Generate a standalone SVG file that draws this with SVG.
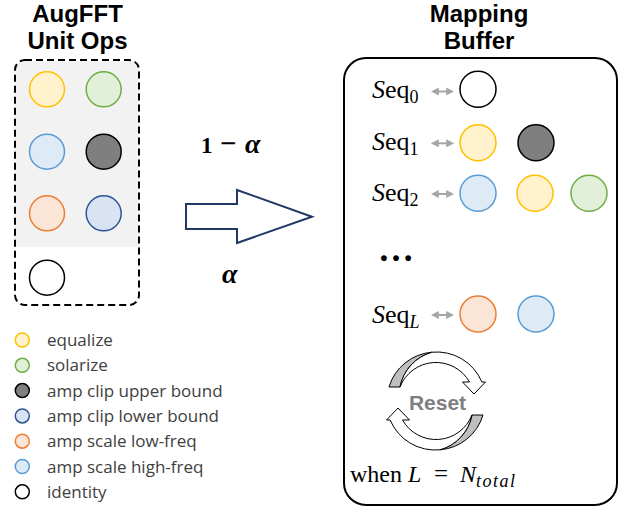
<svg xmlns="http://www.w3.org/2000/svg" width="621" height="507" viewBox="0 0 621 507">
<defs>
<style>
.title{font-family:"Liberation Sans",Arial,sans-serif;font-weight:bold;font-size:24px;fill:#000;text-anchor:middle}
.leg{font-family:"Open Sans","Liberation Sans",sans-serif;font-size:17px;fill:#404040}
.math{font-family:"Liberation Serif","Times New Roman",serif;fill:#000}
.c{stroke-width:1.5}
.yel{fill:#FFF2CC;stroke:#FFC000}
.grn{fill:#E2F0D9;stroke:#70AD47}
.lbl{fill:#DEEBF7;stroke:#5B9BD5}
.dgr{fill:#7F7F7F;stroke:#000}
.org{fill:#FBE5D6;stroke:#ED7D31}
.dbl{fill:#DAE3F3;stroke:#2F5597}
.wht{fill:#FFF;stroke:#000}
.link{stroke:#A6A6A6;stroke-width:2;fill:none;marker-start:url(#ah);marker-end:url(#ah)}
.ra-gray{fill:#BFBFBF;stroke:#000;stroke-width:1}
.ra-white{fill:#FFF;stroke:#000;stroke-width:1}
</style>
<marker id="ah" viewBox="0 0 10 10" refX="6" refY="5" markerWidth="4" markerHeight="4" orient="auto-start-reverse">
<path d="M0,0 L10,5 L0,10 Z" fill="#A6A6A6"/>
</marker>
<g id="resetArrow">
<path class="ra-gray" d="M389,387 A49,49 0 0 1 432,352.2 A45,45 0 0 0 400,387 Z"/>
<path class="ra-white" d="M400,387 A45,45 0 0 1 432,352.2 A49,49 0 0 1 481.9,382 L485.5,382 L474,394 L462.5,382 L469.5,382 A38.6,38.6 0 0 0 400,387 Z"/>
</g>
</defs>

<g id="augfft-title">
<text class="title" x="77.5" y="22">AugFFT</text>
<text class="title" x="77.5" y="49">Unit Ops</text>
</g>

<g id="unit-ops-box">
<path d="M15,245 L15,70 Q15,61 24,61 L130,61 Q139,61 139,70 L139,247 L15,247 Z" fill="#F2F2F2"/>
<rect x="15" y="60" width="124" height="245" rx="10" fill="none" stroke="#000" stroke-width="2" stroke-dasharray="7,4"/>
</g>

<g id="op-equalize"><circle class="c yel" cx="47" cy="89.3" r="17.5"/></g>
<g id="op-solarize"><circle class="c grn" cx="103.7" cy="89.3" r="17.5"/></g>
<g id="op-amp-scale-high"><circle class="c lbl" cx="47" cy="151.7" r="17.5"/></g>
<g id="op-amp-clip-upper"><circle class="c dgr" cx="103.7" cy="151.7" r="17.5"/></g>
<g id="op-amp-scale-low"><circle class="c org" cx="47" cy="213.3" r="17.5"/></g>
<g id="op-amp-clip-lower"><circle class="c dbl" cx="103.7" cy="213.3" r="17.5"/></g>
<g id="op-identity"><circle class="c wht" cx="47" cy="277.7" r="17.5"/></g>

<g id="legend">
<circle class="c yel" cx="22.3" cy="340" r="7"/><text class="leg" x="47" y="346">equalize</text>
<circle class="c grn" cx="22.3" cy="365.3" r="7"/><text class="leg" x="47" y="371.3">solarize</text>
<circle class="c dgr" cx="22.3" cy="390.6" r="7"/><text class="leg" x="47" y="396.6">amp clip upper bound</text>
<circle class="c dbl" cx="22.3" cy="415.9" r="7"/><text class="leg" x="47" y="421.9">amp clip lower bound</text>
<circle class="c org" cx="22.3" cy="441.2" r="7"/><text class="leg" x="47" y="447.2">amp scale low-freq</text>
<circle class="c lbl" cx="22.3" cy="466.5" r="7"/><text class="leg" x="47" y="472.5">amp scale high-freq</text>
<circle class="c wht" cx="22.3" cy="491.8" r="7"/><text class="leg" x="47" y="497.8">identity</text>
</g>

<g id="mapping-title">
<text class="title" x="479" y="22">Mapping</text>
<text class="title" x="479" y="49">Buffer</text>
</g>

<g id="mapping-buffer">
<rect x="344" y="58" width="273" height="447" rx="22" fill="#FFF" stroke="#000" stroke-width="2"/>
</g>

<g id="connectors">
<polygon points="186,204 237,204 237,190 312,216.7 237,243 237,229 186,229" fill="#FFF" stroke="#203864" stroke-width="2" stroke-linejoin="miter"/>
<text class="math" font-weight="bold" y="153"><tspan x="201" font-size="23">1</tspan><tspan x="220" font-size="29">−</tspan><tspan x="245" font-size="28" font-style="italic">α</tspan></text>
<text class="math" font-weight="bold" font-style="italic" font-size="28" x="222" y="283">α</text>
<path class="link" d="M434,91.5 L451,91.5"/>
<path class="link" d="M434,143.3 L451,143.3"/>
<path class="link" d="M434,194 L451,194"/>
<path class="link" d="M434,315 L451,315"/>
</g>

<g id="seq0">
<text class="math" font-size="26" x="372" y="98"><tspan font-style="italic">S</tspan>eq<tspan font-size="18" dy="5">0</tspan></text>
<circle class="c wht" cx="478" cy="89.3" r="18"/>
</g>
<g id="seq1">
<text class="math" font-size="26" x="372" y="150"><tspan font-style="italic">S</tspan>eq<tspan font-size="18" dy="5">1</tspan></text>
<circle class="c yel" cx="478" cy="142.7" r="18"/>
<circle class="c dgr" cx="536" cy="142.7" r="18"/>
</g>
<g id="seq2">
<text class="math" font-size="26" x="372" y="201"><tspan font-style="italic">S</tspan>eq<tspan font-size="18" dy="5">2</tspan></text>
<circle class="c lbl" cx="478" cy="193.3" r="18"/>
<circle class="c yel" cx="535" cy="193.3" r="18"/>
<circle class="c grn" cx="589" cy="193.3" r="18"/>
</g>
<g id="ellipsis">
<text class="math" font-weight="bold" font-size="36" x="378" y="261">…</text>
</g>
<g id="seqL">
<text class="math" font-size="26" x="372" y="323"><tspan font-style="italic">S</tspan>eq<tspan font-size="18" font-style="italic" dy="5">L</tspan></text>
<circle class="c org" cx="478" cy="314" r="18"/>
<circle class="c lbl" cx="536" cy="314" r="18"/>
</g>

<g id="reset">
<use href="#resetArrow"/>
<use href="#resetArrow" transform="rotate(180 436 401)"/>
<text x="437.5" y="410" font-family="'Liberation Sans',Arial,sans-serif" font-weight="bold" font-size="21" fill="#7F7F7F" text-anchor="middle">Reset</text>
</g>

<g id="reset-condition">
<text class="math" font-size="24" y="482"><tspan x="350">when</tspan><tspan x="408" font-style="italic">L</tspan><tspan x="434" font-size="25">=</tspan><tspan x="460" font-style="italic">N</tspan><tspan font-size="18" font-style="italic" letter-spacing="1.5" dy="5">total</tspan></text>
</g>
</svg>
